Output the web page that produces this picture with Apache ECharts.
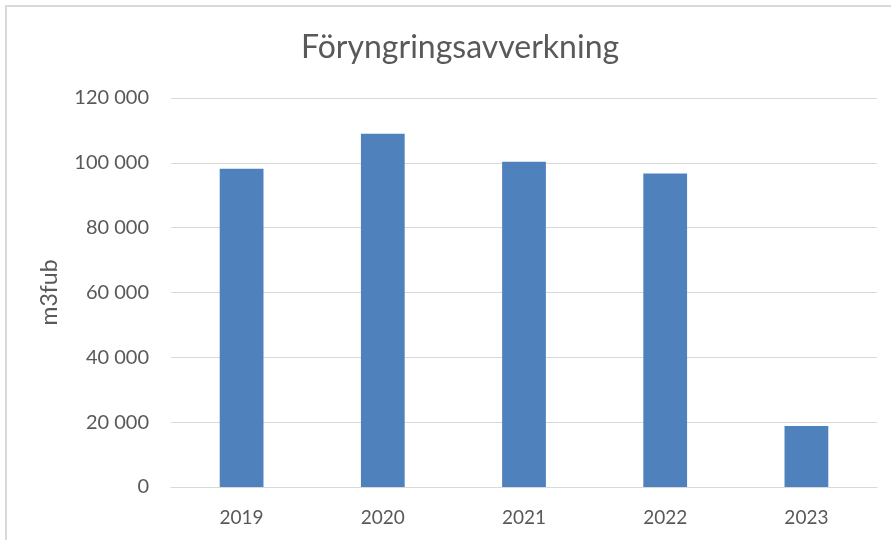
<!DOCTYPE html>
<html><head><meta charset="utf-8">
<script src="https://cdn.jsdelivr.net/npm/echarts@6/dist/echarts.min.js"></script>
<style>html,body{margin:0;padding:0;background:#fff}#c{width:891px;height:540px;position:relative}
#b{position:absolute;left:5px;top:5px;width:900px;height:600px;border-left:2px solid #d9d9d9;border-top:2px solid #d9d9d9;box-sizing:border-box;pointer-events:none}</style>
</head><body><div id="c"></div><div id="b"></div>
<script>
const title = "Föryngringsavverkning";
const categories = ["2019", "2020", "2021", "2022", "2023"];
const values = [98200, 109000, 100300, 96700, 18800];
const yAxisName = "m3fub";

const font = "Lato, 'Open Sans', sans-serif";
const chart = echarts.init(document.getElementById('c'));
chart.setOption({
  animation: false,
  title: { text: title, left: 296, top: 27, textStyle: { fontFamily: font, fontSize: 32, fontWeight: 'normal', color: '#595959' } },
  grid: { left: 171, right: 14, top: 98, bottom: 53 },
  xAxis: {
    type: 'category', data: categories,
    axisLine: { lineStyle: { color: '#d9d9d9', width: 1 } },
    axisTick: { show: false },
    axisLabel: { fontFamily: font, fontSize: 19, color: '#595959', margin: 21 }
  },
  yAxis: {
    type: 'value', min: 0, max: 120000, interval: 20000,
    name: yAxisName, nameLocation: 'middle', nameGap: 110, nameRotate: 90,
    nameTextStyle: { fontFamily: font, fontSize: 23, color: '#595959' },
    axisLine: { show: false }, axisTick: { show: false },
    splitLine: { lineStyle: { color: '#d9d9d9', width: 1 } },
    axisLabel: { fontFamily: font, fontSize: 20, color: '#595959', margin: 22,
      formatter: v => v === 0 ? '0' : String(v).replace(/\B(?=(\d{3})+(?!\d))/g, ' ') }
  },
  series: [{ type: 'bar', data: values, barWidth: '31%', itemStyle: { color: '#4F81BD' } }]
});
</script></body></html>
